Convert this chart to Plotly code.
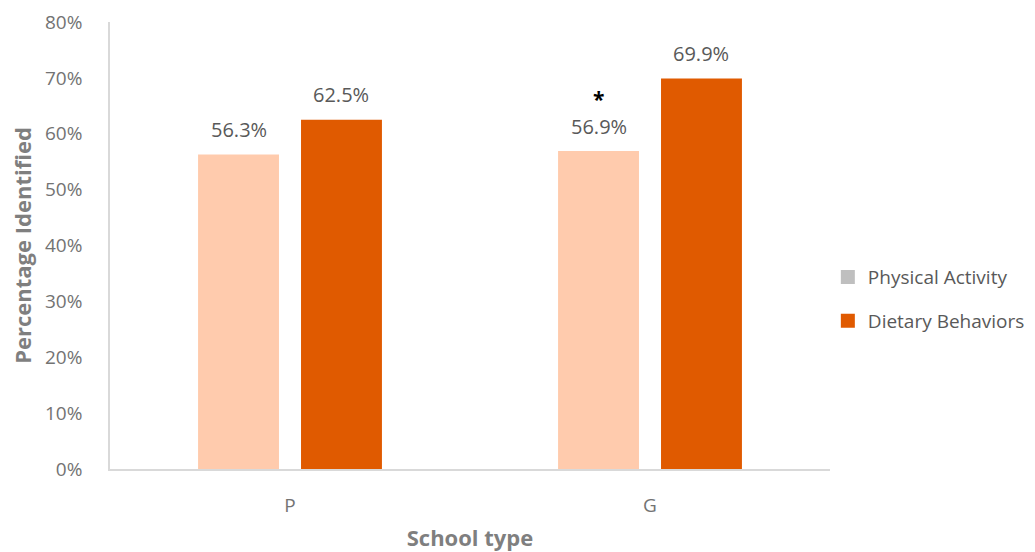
import plotly.graph_objects as go

# School types and the share of each behaviour identified
school_types = ["P", "G"]
physical_activity = [56.3, 56.9]
dietary_behaviors = [62.5, 69.9]
y_ticks = [0, 10, 20, 30, 40, 50, 60, 70, 80]
y_tick_labels = [f"{t}%" for t in y_ticks]

PEACH = "#FFCBAD"
ORANGE = "#E05A00"
LEGEND_GREY = "#BFBFBF"
TEXT_GREY = "#595959"
TICK_GREY = "#737373"
AXIS_GREY = "#D9D9D9"
FONT = "Open Sans, Noto Sans, sans-serif"

fig = go.Figure()

fig.add_trace(go.Bar(
    x=school_types, y=physical_activity, name="Physical Activity",
    marker=dict(color=PEACH, line=dict(width=0)),
    offsetgroup="pa", showlegend=False,
))
fig.add_trace(go.Bar(
    x=school_types, y=dietary_behaviors, name="Dietary Behaviors",
    marker=dict(color=ORANGE, line=dict(width=0)),
    offsetgroup="db", showlegend=False,
))

# Value labels above each bar
BAR_OFFSET = 0.143  # half the spacing between bar centres, in category units
for i, cat in enumerate(school_types):
    for vals, sign in [(physical_activity, -1), (dietary_behaviors, 1)]:
        fig.add_annotation(
            x=i + sign * BAR_OFFSET, y=vals[i], xref="x", yref="y",
            text=f"{vals[i]:.1f}%", showarrow=False,
            yanchor="middle", yshift=25,
            font=dict(size=20, color=TEXT_GREY, family=FONT),
        )

# Significance marker above the G / Physical Activity label
fig.add_annotation(
    x=1 - BAR_OFFSET, y=physical_activity[1], xref="x", yref="y",
    text="<b>*</b>", showarrow=False, yanchor="middle", yshift=52,
    font=dict(size=21, color="black", family=FONT),
)

# Legend entries (square swatches)
for name, col, grp in [("Physical Activity", LEGEND_GREY, "a"),
                       ("Dietary Behaviors", ORANGE, "b")]:
    fig.add_trace(go.Scatter(
        x=[None], y=[None], mode="markers", name=name, legendgroup=grp,
        marker=dict(symbol="square", size=14, color=col),
        showlegend=True,
    ))

fig.update_layout(
    width=1035, height=552,
    margin=dict(l=110, r=205, t=22, b=83, autoexpand=False),
    paper_bgcolor="white", plot_bgcolor="white",
    barmode="group", bargap=0.428, bargroupgap=0.214,
    font=dict(family=FONT, color=TEXT_GREY),
    legend=dict(
        x=0.997, y=0.38, xanchor="left", yanchor="middle",
        font=dict(size=19, color=TEXT_GREY, family=FONT),
        traceorder="grouped", tracegroupgap=16,
        itemwidth=30,
    ),
    xaxis=dict(
        type="category",
        showline=True, linecolor=AXIS_GREY, linewidth=1.5,
        ticks="", ticklabelstandoff=18,
        tickfont=dict(size=19, color=TICK_GREY, family=FONT),
        title=dict(text="<b>School type</b>", standoff=14,
                   font=dict(size=22, color="#7F7F7F", family=FONT)),
        showgrid=False, zeroline=False,
    ),
    yaxis=dict(
        range=[0, 80], tickvals=y_ticks, ticktext=y_tick_labels,
        showline=True, linecolor=AXIS_GREY, linewidth=1.5,
        ticks="", ticklabelstandoff=22,
        tickfont=dict(size=19, color=TICK_GREY, family=FONT),
        title=dict(text="<b>Percentage Identified</b>", standoff=7,
                   font=dict(size=22, color="#7F7F7F", family=FONT)),
        showgrid=False, zeroline=False,
    ),
)

fig.write_html("out.html")
